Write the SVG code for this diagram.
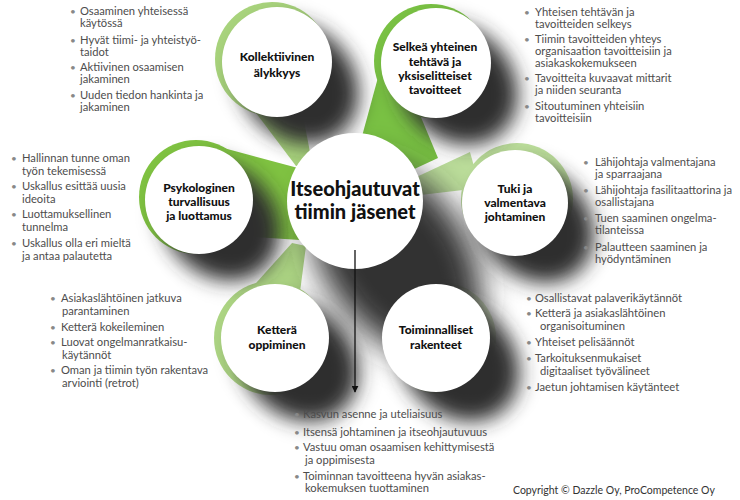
<svg xmlns="http://www.w3.org/2000/svg" width="740" height="500" viewBox="0 0 740 500">
<defs>
<filter id="blur" x="-50%" y="-50%" width="200%" height="200%"><feGaussianBlur stdDeviation="10"/></filter>
<filter id="blurBig" x="-50%" y="-50%" width="200%" height="200%"><feGaussianBlur stdDeviation="16"/></filter>
<marker id="arrow" viewBox="0 0 10 10" refX="9" refY="5" markerWidth="7" markerHeight="7" markerUnits="userSpaceOnUse" orient="auto"><path d="M0,0 L10,5 L0,10 Z" fill="#111"/></marker>
<style>
.node{fill:#fff}
.lbl{font-family:Lato,"Open Sans",sans-serif;font-weight:900;font-size:12px;fill:#111;text-anchor:middle}
.big{font-family:Lato,"Open Sans",sans-serif;font-weight:900;font-size:20px;fill:#111;text-anchor:middle}
.lst{font-family:Lato,"Open Sans",sans-serif;font-size:11.2px;fill:#4d4d4d}
.bul{font-family:Lato,"Open Sans",sans-serif;font-size:10px;fill:#888}
.shd{fill:#2e2e2e;filter:url(#blur)}
.copy{font-family:Lato,"Open Sans",sans-serif;font-size:10.5px;fill:#333}
</style>
</defs>
<rect width="740" height="500" fill="#fff"/>

<g id="petals">
<g fill="#a8d37c"><circle cx="272" cy="59" r="57"/><polygon points="250,105 302,110 312,163 296,166"/></g>
<g fill="#79c143"><circle cx="431" cy="61" r="57"/><polygon points="380,70 361,140 395,178 438,158 418,110"/></g>
<g fill="#7fc241"><circle cx="196" cy="197" r="57"/><polygon points="205,143 298,168 300,240 240,236"/></g>
<g fill="#bbdd9a"><circle cx="517" cy="199" r="56"/><polygon points="410,180 470,152 480,188 412,196"/></g>
<g fill="#acd483"><circle cx="271" cy="338" r="57"/><polygon points="248,292 292,243 306,246 300,292"/></g>
<g fill="#d6e6c4"><circle cx="440" cy="338" r="56"/></g>
</g>

<g id="shadows">
<ellipse class="shd" cx="298" cy="83" rx="66" ry="55" transform="rotate(45 298 83)"/>
<ellipse class="shd" cx="457" cy="84" rx="66" ry="55" transform="rotate(45 457 84)"/>
<ellipse class="shd" cx="220" cy="221" rx="65" ry="54" transform="rotate(45 220 221)"/>
<ellipse cx="396" cy="258" rx="108" ry="72" transform="rotate(55 396 258)" fill="#333" filter="url(#blurBig)"/>
<ellipse class="shd" cx="535" cy="224" rx="64" ry="53" transform="rotate(45 535 224)"/>
<ellipse class="shd" cx="298" cy="361" rx="66" ry="54" transform="rotate(45 298 361)"/>
<ellipse class="shd" cx="459" cy="361" rx="66" ry="54" transform="rotate(45 459 361)"/>
</g>

<g id="center">
<circle class="node" cx="355" cy="201" r="68"/>
<text class="big" x="355" y="196">Itseohjautuvat</text>
<text class="big" x="355" y="219">tiimin jäsenet</text>
</g>

<g id="connectors">
<line x1="355" y1="250" x2="355" y2="392" stroke="#111" stroke-width="1.3" marker-end="url(#arrow)"/>
</g>

<g id="n-kollektiivinen">
<circle class="node" cx="277" cy="62" r="55"/>
<text class="lbl" x="277" y="61">Kollektiivinen</text>
<text class="lbl" x="277" y="77">älykkyys</text>
</g>

<g id="n-selkea">
<circle class="node" cx="436" cy="63" r="55"/>
<text class="lbl" x="435" y="51">Selkeä yhteinen</text>
<text class="lbl" x="435" y="66">tehtävä ja</text>
<text class="lbl" x="435" y="80">yksiselitteiset</text>
<text class="lbl" x="435" y="94">tavoitteet</text>
</g>

<g id="n-psykologinen">
<circle class="node" cx="199" cy="200" r="54"/>
<text class="lbl" x="199" y="192">Psykologinen</text>
<text class="lbl" x="199" y="206">turvallisuus</text>
<text class="lbl" x="199" y="220">ja luottamus</text>
</g>

<g id="n-tuki">
<circle class="node" cx="515" cy="203" r="53"/>
<text class="lbl" x="515" y="193">Tuki ja</text>
<text class="lbl" x="515" y="207">valmentava</text>
<text class="lbl" x="515" y="221">johtaminen</text>
</g>

<g id="n-kettera">
<circle class="node" cx="275" cy="338" r="54"/>
<text class="lbl" x="277" y="334">Ketterä</text>
<text class="lbl" x="277" y="349">oppiminen</text>
</g>

<g id="n-toiminnalliset">
<circle class="node" cx="436" cy="338" r="54"/>
<text class="lbl" x="436" y="334">Toiminnalliset</text>
<text class="lbl" x="436" y="349">rakenteet</text>
</g>

<g id="list-kollektiivinen">
<text class="bul" x="70" y="15">•</text><text class="lst" x="80" y="15">Osaaminen yhteisessä</text>
<text class="lst" x="80" y="27">käytössä</text>
<text class="bul" x="70" y="44">•</text><text class="lst" x="80" y="44">Hyvät tiimi- ja yhteistyö-</text>
<text class="lst" x="80" y="56">taidot</text>
<text class="bul" x="70" y="71">•</text><text class="lst" x="80" y="71">Aktiivinen osaamisen</text>
<text class="lst" x="80" y="83">jakaminen</text>
<text class="bul" x="70" y="99">•</text><text class="lst" x="80" y="99">Uuden tiedon hankinta ja</text>
<text class="lst" x="80" y="111">jakaminen</text>
</g>

<g id="list-selkea">
<text class="bul" x="524" y="16">•</text><text class="lst" x="535" y="16">Yhteisen tehtävän ja</text>
<text class="lst" x="535" y="28">tavoitteiden selkeys</text>
<text class="bul" x="524" y="43">•</text><text class="lst" x="535" y="43">Tiimin tavoitteiden yhteys</text>
<text class="lst" x="535" y="55">organisaation tavoitteisiin ja</text>
<text class="lst" x="535" y="67">asiakaskokemukseen</text>
<text class="bul" x="524" y="82">•</text><text class="lst" x="535" y="82">Tavoitteita kuvaavat mittarit</text>
<text class="lst" x="535" y="94">ja niiden seuranta</text>
<text class="bul" x="524" y="110">•</text><text class="lst" x="535" y="110">Sitoutuminen yhteisiin</text>
<text class="lst" x="535" y="122">tavoitteisiin</text>
</g>

<g id="list-psykologinen">
<text class="bul" x="11" y="162">•</text><text class="lst" x="22" y="162">Hallinnan tunne oman</text>
<text class="lst" x="22" y="175">työn tekemisessä</text>
<text class="bul" x="11" y="190">•</text><text class="lst" x="22" y="190">Uskallus esittää uusia</text>
<text class="lst" x="22" y="203">ideoita</text>
<text class="bul" x="11" y="218">•</text><text class="lst" x="22" y="218">Luottamuksellinen</text>
<text class="lst" x="22" y="231">tunnelma</text>
<text class="bul" x="11" y="247">•</text><text class="lst" x="22" y="247">Uskallus olla eri mieltä</text>
<text class="lst" x="22" y="260">ja antaa palautetta</text>
</g>

<g id="list-tuki">
<text class="bul" x="583" y="166">•</text><text class="lst" x="595" y="166">Lähijohtaja valmentajana</text>
<text class="lst" x="595" y="178">ja sparraajana</text>
<text class="bul" x="583" y="194">•</text><text class="lst" x="595" y="194">Lähijohtaja fasilitaattorina ja</text>
<text class="lst" x="595" y="206">osallistajana</text>
<text class="bul" x="583" y="222">•</text><text class="lst" x="595" y="222">Tuen saaminen ongelma-</text>
<text class="lst" x="595" y="234">tilanteissa</text>
<text class="bul" x="583" y="251">•</text><text class="lst" x="595" y="251">Palautteen saaminen ja</text>
<text class="lst" x="595" y="263">hyödyntäminen</text>
</g>

<g id="list-kettera">
<text class="bul" x="50" y="302">•</text><text class="lst" x="61" y="302">Asiakaslähtöinen jatkuva</text>
<text class="lst" x="62" y="315">parantaminen</text>
<text class="bul" x="50" y="331">•</text><text class="lst" x="61" y="331">Ketterä kokeileminen</text>
<text class="bul" x="50" y="346">•</text><text class="lst" x="61" y="346">Luovat ongelmanratkaisu-</text>
<text class="lst" x="62" y="359">käytännöt</text>
<text class="bul" x="50" y="374">•</text><text class="lst" x="61" y="374">Oman ja tiimin työn rakentava</text>
<text class="lst" x="62" y="387">arviointi (retrot)</text>
</g>

<g id="list-toiminnalliset">
<text class="bul" x="526" y="302">•</text><text class="lst" x="535" y="302">Osallistavat palaverikäytännöt</text>
<text class="bul" x="526" y="317">•</text><text class="lst" x="535" y="317">Ketterä ja asiakaslähtöinen</text>
<text class="lst" x="540" y="330">organisoituminen</text>
<text class="bul" x="526" y="346">•</text><text class="lst" x="535" y="346">Yhteiset pelisäännöt</text>
<text class="bul" x="526" y="362">•</text><text class="lst" x="535" y="362">Tarkoituksenmukaiset</text>
<text class="lst" x="540" y="375">digitaaliset työvälineet</text>
<text class="bul" x="526" y="391">•</text><text class="lst" x="535" y="391">Jaetun johtamisen käytänteet</text>
</g>

<g id="list-center">
<text class="bul" x="294" y="418">•</text><text class="lst" x="303" y="418">Kasvun asenne ja uteliaisuus</text>
<text class="bul" x="294" y="436">•</text><text class="lst" x="303" y="436">Itsensä johtaminen ja itseohjautuvuus</text>
<text class="bul" x="294" y="451">•</text><text class="lst" x="303" y="451">Vastuu oman osaamisen kehittymisestä</text>
<text class="lst" x="305" y="464">ja oppimisesta</text>
<text class="bul" x="294" y="480">•</text><text class="lst" x="303" y="480">Toiminnan tavoitteena hyvän asiakas-</text>
<text class="lst" x="305" y="492">kokemuksen tuottaminen</text>
</g>

<text class="copy" x="513" y="494">Copyright © Dazzle Oy, ProCompetence Oy</text>
</svg>
